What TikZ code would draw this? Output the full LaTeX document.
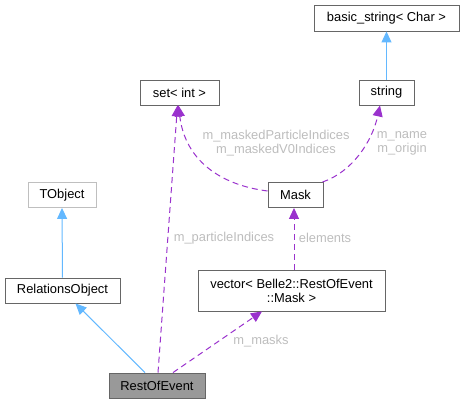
\documentclass[tikz,border=0pt]{standalone}
\usepackage{fontspec}
\setmainfont{Liberation Sans}
\usetikzlibrary{arrows.meta,calc}
\definecolor{boxline}{HTML}{666666}
\definecolor{lightline}{HTML}{BFBFBF}
\definecolor{rootfill}{HTML}{999999}
\definecolor{inhblue}{HTML}{63B8FF}
\definecolor{usepurple}{HTML}{9A32CD}
\definecolor{lblgrey}{HTML}{BDBDBD}
\tikzset{
  cls/.style={draw=boxline, line width=0.9pt, fill=white, inner sep=0pt, align=center,
    font=\fontsize{12.9}{14}\selectfont, text=black},
  inh/.style={draw=inhblue, line width=1pt, -{Triangle[length=11pt,width=10pt]}},
  usage/.style={draw=usepurple, line width=1pt, dash pattern=on 6pt off 4pt,
    -{Triangle[length=11pt,width=10pt]}},
  lbl/.style={inner sep=0pt, align=center, text=lblgrey, font=\fontsize{12.9}{14}\selectfont}
}
\begin{document}
\begin{tikzpicture}[x=1pt,y=-1pt]
\useasboundingbox (0,0) rectangle (464,404);
\node[cls, minimum width=145pt, minimum height=26pt] (bs) at (386.5,18) {basic\_string< Char >};
\node[cls, minimum width=55pt, minimum height=25pt] (str) at (386.5,92.5) {string};
\node[cls, minimum width=79pt, minimum height=25pt] (set) at (179.5,92.5) {set< int >};
\node[cls, minimum width=55pt, minimum height=25pt] (mask) at (295.5,195) {Mask};
\node[cls, draw=lightline, minimum width=68pt, minimum height=25pt] (tobj) at (62,195) {TObject};
\node[cls, minimum width=115pt, minimum height=25pt] (rel) at (62.5,290.5) {RelationsObject};
\node[cls, minimum width=187pt, minimum height=41pt] (vec) at (291.5,290.5) {vector< Belle2::RestOfEvent\\::Mask >};
\node[cls, fill=rootfill, minimum width=96pt, minimum height=25pt] (roe) at (157,385.5) {RestOfEvent};

\draw[inh] (rel.north) -- (tobj.south);
\draw[inh] ($(roe.north)+(-12,0)$) -- ($(rel.south)+(13,0)$);
\draw[inh] (str.north) -- (bs.south);

\draw[usage] ($(roe.north)+(1,0)$) -- ($(set.south)+(-2,0)$);
\draw[usage] ($(roe.north)+(16,0)$) -- ($(vec.south)+(-29.5,0)$);
\draw[usage] ($(vec.north)+(2.5,0)$) -- ($(mask.south)+(-1.5,0)$);
\draw[usage] ($(mask.west)+(0,-4)$) .. controls (220,185) and (185,160) .. ($(set.south)+(-1,0)$);
\draw[usage] ($(mask.north east)+(-1,0)$) .. controls (352,172) and (372,142) .. ($(str.south)+(-6.5,0)$);

\node[lbl] (l1) at (224,238) {m\_particleIndices};
\node[lbl] (l2) at (276,143) {m\_maskedParticleIndices\\m\_maskedV0Indices};
\node[lbl] (l3) at (402,143) {m\_name\\m\_origin};
\node[lbl] (l4) at (325,238) {elements};
\node[lbl] (l5) at (261,341) {m\_masks};
\end{tikzpicture}
\end{document}
